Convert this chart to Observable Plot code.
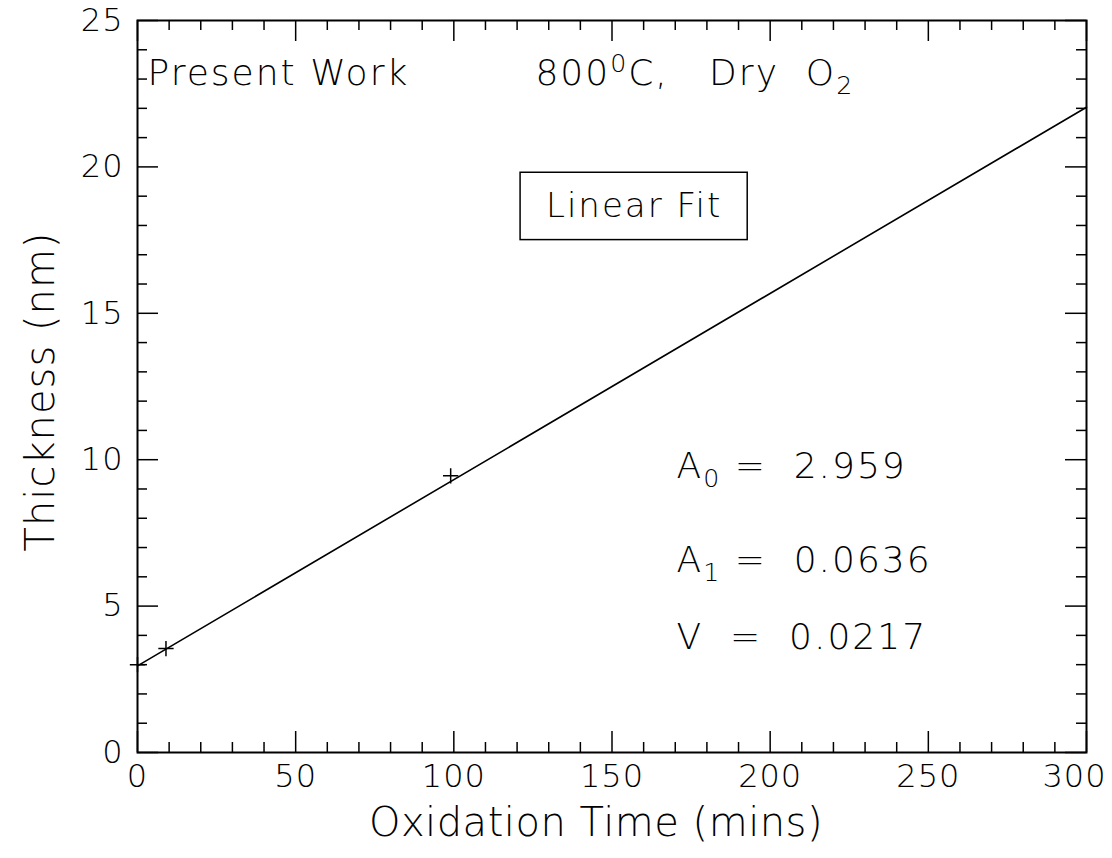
<!DOCTYPE html>
<html><head><meta charset="utf-8">
<script src="https://cdn.jsdelivr.net/npm/d3@7"></script>
<script src="https://cdn.jsdelivr.net/npm/@observablehq/plot@0.6"></script>
<style>
body{margin:0;background:#fff;}
#chart svg{display:block}
</style></head><body><div id="chart"></div>
<script>
// measured points (Oxidation time in mins, thickness in nm)
const timeMins = [0, 9, 99];
const thicknessNm = [3.0, 3.55, 9.45];
// linear fit line endpoints (A0 + A1 * t)
const fitTime = [0, 300];
const fitThickness = [2.959, 22.039];
// ticks
const xMajorTicks = [0, 50, 100, 150, 200, 250, 300];
const xMinorTicks = [10,20,30,40,60,70,80,90,110,120,130,140,160,170,180,190,210,220,230,240,260,270,280,290];
const yMajorTicks = [0, 5, 10, 15, 20, 25];
const yMinorTicks = [1,2,3,4,6,7,8,9,11,12,13,14,16,17,18,19,21,22,23,24];
// annotation texts (_x = subscript, ^x = superscript)
const titleLeft = "Present Work";
const titleRight = "800^0C,   Dry  O_2";
const fitLabel = "Linear Fit";
const fitParams = ["A_0 =  2.959", "A_1 =  0.0636", "V  =  0.0217"];
const xLabel = "Oxidation Time (mins)";
const yLabel = "Thickness (nm)";

const points = timeMins.map((t, i) => ({t, th: thicknessNm[i]}));
const fit = fitTime.map((t, i) => ({t, th: fitThickness[i]}));

const W = 1112, H = 858, mL = 137, mR = 26, mT = 20, mB = 106;
const fw = W - mL - mR, fh = H - mT - mB;
const FONT = "'DejaVu Sans ExtraLight', 'DejaVu Sans Light', 'Liberation Sans', sans-serif";
const lastX = xMajorTicks[xMajorTicks.length - 1];

const chart = Plot.plot({
  width: W, height: H,
  marginLeft: mL, marginRight: mR, marginTop: mT, marginBottom: mB,
  x: {domain: [0, 300]},
  y: {domain: [0, 25]},
  style: {fontFamily: FONT, color: "#000", background: "#fff"},
  marks: [
    // tick labels
    Plot.axisX(xMajorTicks.filter(d => d !== lastX), {tickSize: 0, tickPadding: 12, label: null, fontSize: 32, tickFormat: d => String(d), className: "tl"}),
    Plot.axisX([lastX], {tickSize: 0, tickPadding: 12, label: null, fontSize: 32, dx: -12, tickFormat: d => String(d), className: "tl"}),
    Plot.axisY(yMajorTicks, {tickSize: 0, tickPadding: 14, label: null, fontSize: 32, tickFormat: d => String(d), className: "tl"}),
    // inward ticks, bottom and top
    Plot.tickX(xMinorTicks, {insetTop: fh - 10, stroke: "#000", strokeWidth: 1.5}),
    Plot.tickX(xMajorTicks, {insetTop: fh - 21, stroke: "#000", strokeWidth: 1.5}),
    Plot.tickX(xMinorTicks, {insetBottom: fh - 10, stroke: "#000", strokeWidth: 1.5}),
    Plot.tickX(xMajorTicks, {insetBottom: fh - 21, stroke: "#000", strokeWidth: 1.5}),
    // inward ticks, left and right
    Plot.tickY(yMinorTicks, {insetRight: fw - 10, stroke: "#000", strokeWidth: 1.5}),
    Plot.tickY(yMajorTicks, {insetRight: fw - 21, stroke: "#000", strokeWidth: 1.5}),
    Plot.tickY(yMinorTicks, {insetLeft: fw - 10, stroke: "#000", strokeWidth: 1.5}),
    Plot.tickY(yMajorTicks, {insetLeft: fw - 21, stroke: "#000", strokeWidth: 1.5}),
    Plot.frame({stroke: "#000", strokeWidth: 2}),
    // fit line and points
    Plot.line(fit, {x: "t", y: "th", stroke: "#000", strokeWidth: 1.6}),
    Plot.dot(points, {x: "t", y: "th", symbol: "plus", r: 5, stroke: "#000", strokeWidth: 1.5}),
    // axis titles
    Plot.text([xLabel], {frameAnchor: "bottom", textAnchor: "middle", lineAnchor: "bottom", dy: 83, dx: -16, fontSize: 40, className: "xt"}),
    Plot.text([yLabel], {frameAnchor: "left", textAnchor: "middle", lineAnchor: "bottom", rotate: -90, dx: -84, dy: 5, fontSize: 40, className: "yt"}),
    // annotations
    Plot.text([titleLeft], {x: 3.2, y: 22.8, textAnchor: "start", lineAnchor: "bottom", fontSize: 36, className: "ann"}),
    Plot.text([titleRight], {x: 125.8, y: 22.8, textAnchor: "start", lineAnchor: "bottom", fontSize: 36, className: "ann"}),
    Plot.rect([0], {x1: 121.1, x2: 192.9, y1: 17.5, y2: 19.8, fill: "none", stroke: "#000", strokeWidth: 1.5}),
    Plot.text([fitLabel], {x: 157, y: 18.3, textAnchor: "middle", lineAnchor: "bottom", fontSize: 34, className: "ann"}),
    Plot.text(fitParams, {x: 170.4, y: [9.36, 6.15, 3.55], textAnchor: "start", lineAnchor: "bottom", fontSize: 36, className: "ann"})
  ]
});

// letter spacing per text group
const spacing = {tl: "1px", xt: "0.5px", yt: "1px", ann: "2px"};
chart.querySelectorAll("g").forEach(g => {
  const cls = (g.getAttribute("class") || "").split(/\s+/);
  for (const [c, ls] of Object.entries(spacing)) {
    if (cls.includes(c)) g.querySelectorAll("text").forEach(t => { t.style.letterSpacing = ls; });
  }
});

// rich text: subscripts / superscripts
const NS = "http://www.w3.org/2000/svg";
chart.querySelectorAll("text").forEach(t => {
  const s = t.textContent;
  if (!/[_^]/.test(s)) return;
  while (t.firstChild) t.removeChild(t.firstChild);
  const pieces = [];
  const re = /([_^])(.)/g;
  let last = 0, m;
  while ((m = re.exec(s))) {
    if (m.index > last) pieces.push({txt: s.slice(last, m.index), shift: 0});
    pieces.push({txt: m[2], shift: m[1] === "_" ? 9 : -13});
    last = re.lastIndex;
  }
  if (last < s.length) pieces.push({txt: s.slice(last), shift: 0});
  let cur = 0;
  for (const p of pieces) {
    const ts = document.createElementNS(NS, "tspan");
    ts.textContent = p.txt;
    const dy = p.shift - cur;
    if (dy) ts.setAttribute("dy", String(dy));
    if (p.shift) ts.setAttribute("font-size", "70%");
    cur = p.shift;
    t.appendChild(ts);
  }
});
chart.querySelectorAll("text").forEach(t => { t.style.whiteSpace = "pre"; });
document.getElementById("chart").appendChild(chart);
</script></body></html>
